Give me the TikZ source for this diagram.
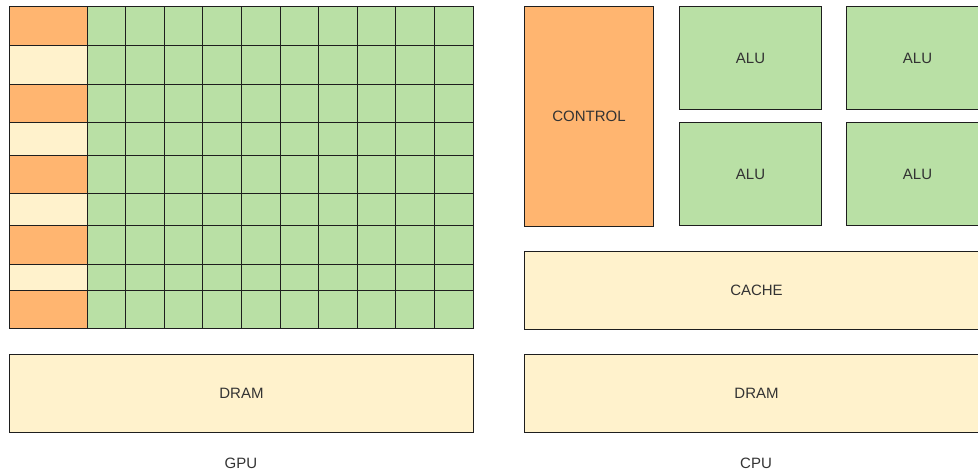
\documentclass[tikz,border=0pt]{standalone}
\usepackage{fontspec}
\setmainfont{Liberation Sans}
\usepackage{tikz}
\definecolor{hwink}{HTML}{1E1E1E}
\definecolor{hwtext}{HTML}{333333}
\definecolor{hworange}{HTML}{FFB570}
\definecolor{hwyellow}{HTML}{FFF2CC}
\definecolor{hwgreen}{HTML}{B9E0A5}

\begin{document}
\begin{tikzpicture}[x=1pt,y=-1pt,
  hwbox/.style={draw=hwink,line width=1pt,anchor=north west,inner sep=0pt,
    font=\fontsize{15}{18}\selectfont,text=hwtext},
  hwlabel/.style={font=\fontsize{15}{18}\selectfont,text=hwtext},
  gridline/.style={draw=hwink,line width=1pt}]
\useasboundingbox (0,0) rectangle (978,471);
% GPU: control/cache column and the many small cores
\fill[hwgreen] (87,6) rectangle (473,328);
\foreach \ya/\yb/\side in {
  6/45/hworange,45/84/hwyellow,84/122/hworange,
  122/155/hwyellow,155/193/hworange,193/225/hwyellow,
  225/264/hworange,264/290/hwyellow,290/328/hworange} {
  \draw[gridline,fill=\side] (9,\ya) rectangle (87,\yb);
  \draw[gridline] (87,\yb) -- (473,\yb);
}
\foreach \k in {1,...,9}
  \draw[gridline] ({87+\k*38.6},6) -- ({87+\k*38.6},328);
\draw[gridline] (9,6) rectangle (473,328);
\node[hwbox,fill=hwyellow,minimum width=464pt,minimum height=78pt]
  (gpudram) at (9,354) {};
\node[hwlabel] at (gpudram.center) {DRAM};
\node[hwlabel] (gpu) at (241,463) {GPU};
% CPU: one control unit, four ALUs, a large cache
\node[hwbox,fill=hworange,minimum width=129pt,minimum height=220pt]
  (control) at (524,6) {};
\node[hwlabel] at (control.center) {CONTROL};
\foreach \x/\y/\n in {679/6/a,846/6/b,679/122/c,846/122/d} {
  \node[hwbox,fill=hwgreen,minimum width=142pt,minimum height=103pt]
    (alu\n) at (\x,\y) {};
  \node[hwlabel] at (alu\n.center) {ALU};
}
\node[hwbox,fill=hwyellow,minimum width=464pt,minimum height=78pt]
  (cache) at (524,251) {};
\node[hwlabel] at (cache.center) {CACHE};
\node[hwbox,fill=hwyellow,minimum width=464pt,minimum height=78pt]
  (cpudram) at (524,354) {};
\node[hwlabel] at (cpudram.center) {DRAM};
\node[hwlabel] (cpu) at (756,463) {CPU};
\end{tikzpicture}
\end{document}
